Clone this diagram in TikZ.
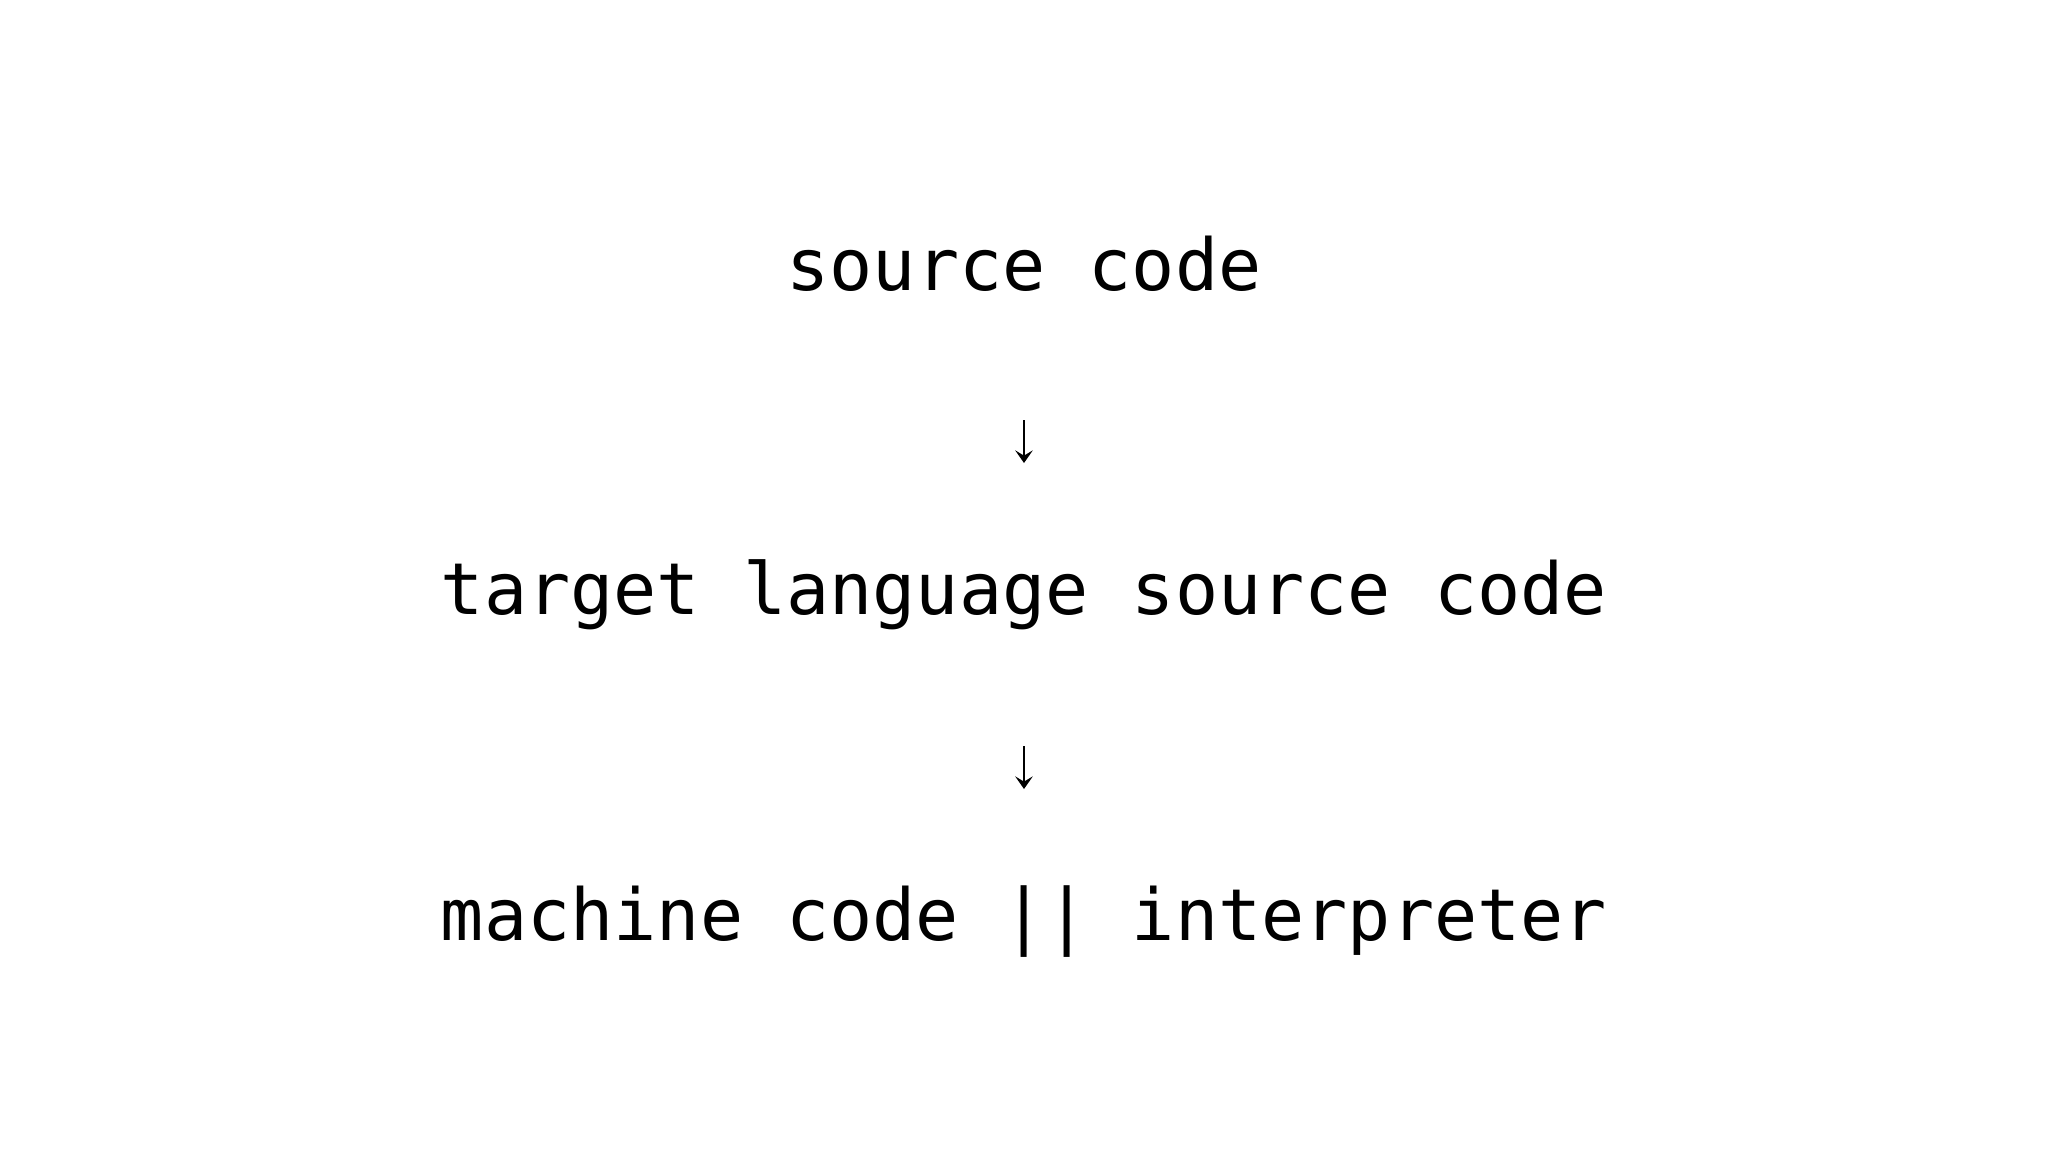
\documentclass[tikz,border=0pt]{standalone}
\usepackage{fontspec}
\setmonofont{DejaVu Sans Mono}
\usetikzlibrary{arrows.meta}
\begin{document}
\begin{tikzpicture}[x=0.01cm,y=-0.01cm,
  codetext/.style={font=\ttfamily\fontsize{20.4pt}{24pt}\selectfont, inner sep=0pt, anchor=base, text=black},
  arr/.style={line width=0.6pt, -{Stealth[length=3.6pt,width=5pt,inset=1.5pt]}}]
\useasboundingbox[fill=white] (0,0) rectangle (2048,1150);
\node[codetext] (src) at (1024,290) {source code};
\node[codetext] (tgt) at (1024,614) {target language source code};
\node[codetext] (mc) at (1024,940) {machine code || interpreter};
\coordinate (a1s) at (1024,420);
\coordinate (a1e) at (1024,463);
\coordinate (a2s) at (1024,746);
\coordinate (a2e) at (1024,789);
\draw[arr] (a1s) -- (a1e);
\draw[arr] (a2s) -- (a2e);
\end{tikzpicture}
\end{document}
